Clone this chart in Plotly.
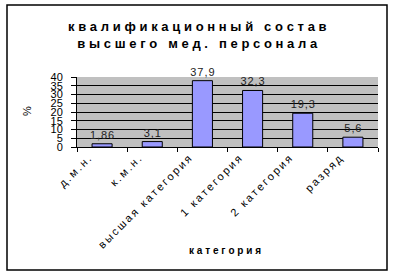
import plotly.graph_objects as go

categories = ["д.м.н.", "к.м.н.", "высшая категория", "1 категория", "2 категория", "разряд"]
values = [1.86, 3.1, 37.9, 32.3, 19.3, 5.6]
value_labels = ["1,86", "3,1", "37,9", "32,3", "19,3", "5,6"]
y_ticks = [0, 5, 10, 15, 20, 25, 30, 35, 40]

def spaced(s, sep="\u2009\u200A"):
    return sep.join(list(s))

W, H = 394, 275
L, R, T, B = 77, 16, 77, 128
pw, ph = W - L - R, H - T - B

def px_x(x):
    return (x - L) / pw

def px_y(y):
    return (H - B - y) / ph

fig = go.Figure()
fig.add_trace(go.Bar(
    x=categories, y=values,
    marker=dict(color="#9999FF", line=dict(color="black", width=1)),
    text=[spaced(v, "\u200A") for v in value_labels], textposition="outside",
    textfont=dict(family="Arial, Liberation Sans", size=11, color="#222222"),
    constraintext="none",
    cliponaxis=False,
))

fig.update_layout(
    width=W, height=H,
    margin=dict(l=L, r=R, t=T, b=B),
    paper_bgcolor="white", plot_bgcolor="#C0C0C0",
    bargap=0.6, showlegend=False,
    font=dict(family="Arial, Liberation Sans", size=10, color="black"),
    xaxis=dict(
        tickangle=-45, showline=True, linecolor="black", linewidth=1,
        ticks="outside", ticklen=4, tickcolor="black", tickson="boundaries",
        showgrid=False, tickfont=dict(size=11, color="black"),
        tickvals=categories, ticktext=[spaced(c, "\u2009") for c in categories],
        ticklabelstandoff=0, ticklabelshift=-14,
    ),
    yaxis=dict(
        range=[0, 40], tickvals=y_ticks, showline=True, linecolor="black", linewidth=1,
        ticks="outside", ticklen=5, tickcolor="black",
        showgrid=True, gridcolor="black", gridwidth=1, zeroline=False,
        tickfont=dict(size=11, color="black"), ticklabelstandoff=6,
    ),
    shapes=[dict(type="rect", xref="paper", yref="paper",
                 x0=px_x(7), x1=px_x(387), y0=px_y(270), y1=px_y(5),
                 line=dict(color="black", width=1.5))],
    annotations=[
        dict(text="<b>" + spaced("квалификационный состав") + "<br>" + spaced("высшего мед. персонала") + "</b>",
             xref="paper", yref="paper", x=px_x(197), y=px_y(35), showarrow=False,
             xanchor="center", yanchor="middle",
             font=dict(size=13, color="black")),
        dict(text="<b>" + spaced("категория") + "</b>", xref="paper", yref="paper",
             x=px_x(225), y=px_y(250), showarrow=False, xanchor="center", yanchor="middle",
             font=dict(size=10, color="black")),
        dict(text="%", xref="paper", yref="paper", x=px_x(27), y=px_y(111),
             showarrow=False, textangle=-90, xanchor="center", yanchor="middle",
             font=dict(size=11, color="black")),
    ],
)

fig.write_html("out.html")
